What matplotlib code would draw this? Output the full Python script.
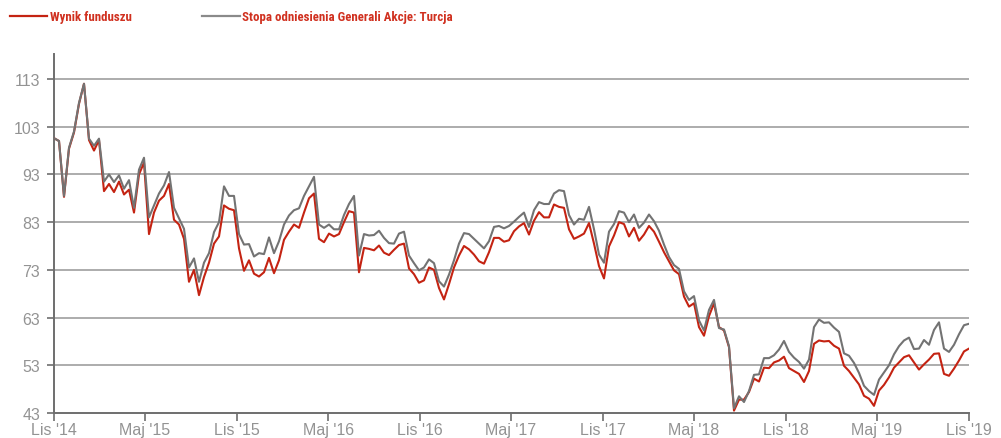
import matplotlib
matplotlib.use("Agg")
import matplotlib.pyplot as plt
from matplotlib.lines import Line2D
from matplotlib import font_manager as fm
import pandas as pd

# ---- data ----
start_date = "2014-11-01"
end_date = "2019-11-01"

benchmark = [
    100.6, 100, 88.5, 98.6, 102, 108, 112, 100.5, 99, 100.5,
    91.5, 93, 91.4, 92.8, 90, 91.8, 86, 94, 96.5, 84,
    86.5, 89, 90.7, 93.5, 86, 83.8, 81.6, 73.5, 75.4, 70.5,
    74.5, 76.5, 80.9, 83, 90.5, 88.5, 88.5, 80.5, 78.3, 78.4,
    75.8, 76.5, 76.3, 79.8, 76.5, 79, 82.5, 84.4, 85.5, 85.9,
    88.5, 90.5, 92.5, 82.5, 81.8, 82.5, 81.5, 81.5, 84.5, 86.8,
    88.5, 76, 80.5, 80.2, 80.3, 81.2, 79.7, 78.6, 78.5, 80.6,
    81, 76, 74.4, 72.9, 73.5, 75.2, 74.4, 70.6, 69.5, 72,
    75, 78.5, 80.7, 80.5, 79.5, 78.5, 77.5, 79, 82, 82.2,
    81.7, 82.2, 83.1, 84.1, 85, 82, 85.5, 87.2, 86.8, 86.8,
    89, 89.7, 89.5, 84.5, 82.5, 83.7, 83.5, 86.2, 81.5, 76.2,
    74.5, 81, 82.6, 85.3, 85, 83, 84.6, 81.8, 82.9, 84.6,
    83.2, 81.2, 78.3, 75.7, 74, 73.2, 68.5, 66.7, 67.5, 62.4,
    60.3, 64.6, 66.7, 60.8, 60.5, 57, 44, 46.5, 45.3, 47.6,
    51, 51.1, 54.5, 54.5, 55.1, 56.3, 58.1, 55.8, 54.6, 53.7,
    52.3, 54.2, 61, 62.6, 61.9, 62, 60.9, 60, 55.5, 55,
    53.5, 51.4, 48.7, 47.6, 46.8, 50, 51.5, 53, 55.3, 57,
    58.2, 58.8, 56.4, 56.5, 58.3, 57.3, 60.4, 62, 56.5, 55.8,
    57.3, 59.5, 61.4, 61.7,
]

fund = [
    100.6, 100, 88.3, 98.4, 101.8, 107.8, 112, 100.2, 98, 100.2,
    89.5, 91, 89.3, 91.5, 88.8, 89.8, 85, 93, 95.5, 80.5,
    85, 87.5, 88.5, 91, 83.5, 82.5, 79.5, 70.5, 73, 67.7,
    71.5, 74.5, 78.5, 80, 86.5, 85.8, 85.5, 77.5, 72.8, 75,
    72.2, 71.6, 72.5, 75.5, 72.3, 75, 79.3, 81, 82.5, 81.8,
    85, 88, 89, 79.5, 78.8, 80.6, 80, 80.5, 83, 85.3,
    85, 72.5, 77.6, 77.4, 77.1, 78.1, 76.6, 76.1, 77.2, 78.2,
    78.5, 73.3, 72.1, 70.3, 70.8, 73.5, 73, 69.2, 66.8, 70,
    73.5, 76, 78, 77.3, 76.2, 74.8, 74.3, 76.7, 79.7, 79.7,
    78.9, 79.2, 81.1, 82.1, 82.8, 80.4, 83.3, 85.1, 84, 84,
    86.7, 86.2, 86, 81.5, 79.5, 80, 80.6, 82.8, 78.5, 73.8,
    71.2, 77.9, 80.2, 83, 82.6, 80, 81.8, 79.1, 80.4, 82.2,
    81, 78.9, 76.7, 74.8, 72.9, 72.1, 67.4, 65.3, 66, 61,
    59.2, 63.3, 66, 61, 60.3, 56.8, 43.5, 45.8, 45.8, 47.4,
    50.2, 49.6, 52.5, 52.4, 53.6, 54, 54.8, 52.4, 51.8, 51.2,
    49.5, 51.8, 57.5, 58.2, 58, 58.1, 57.1, 56.5, 52.9, 51.8,
    50.4, 49, 46.6, 46, 44.5, 47.7, 48.9, 50.5, 52.5, 53.6,
    54.7, 55.1, 53.6, 52.1, 53.2, 54.2, 55.4, 55.5, 51.2, 50.8,
    52.3, 54, 55.9, 56.5,
]

tick_dates = ["2014-11-01", "2015-05-01", "2015-11-01", "2016-05-01", "2016-11-01",
              "2017-05-01", "2017-11-01", "2018-05-01", "2018-11-01", "2019-05-01",
              "2019-11-01"]
tick_labels = ["Lis '14", "Maj '15", "Lis '15", "Maj '16", "Lis '16", "Maj '17",
               "Lis '17", "Maj '18", "Lis '18", "Maj '19", "Lis '19"]
y_ticks = [43, 53, 63, 73, 83, 93, 103, 113]

series_names = ["Wynik funduszu", "Stopa odniesienia Generali Akcje: Turcja"]

# ---- style ----
RED = "#c42312"
GRAY = "#737373"
LABEL_RED = "#d0301f"
TICK_GRAY = "#939393"
AXIS_GRAY = "#6e6e6e"
GRID_GRAY = "#a6a6a6"

plt.rcParams["font.family"] = ["Liberation Sans", "DejaVu Sans"]


def condensed_bold():
    """Pick a condensed/narrow bold face if one is installed."""
    best = None
    for f in fm.fontManager.ttflist:
        name = f.name.lower()
        narrow = ("narrow" in name or "condensed" in name or "condensed" in str(f.stretch)
                  or "condensed" in f.fname.lower())
        bold = (isinstance(f.weight, int) and f.weight >= 600) or str(f.weight) in ("bold", "semibold", "demibold")
        if narrow and bold and "oblique" not in f.fname.lower() and "italic" not in f.fname.lower():
            score = 0 if "liberation" in name else (1 if "roboto" in name else 2)
            if best is None or score < best[0]:
                best = (score, f.fname)
    return best[1] if best else None


cfile = condensed_bold()
if cfile:
    legend_fp = fm.FontProperties(fname=cfile, size=9.3)
else:
    legend_fp = fm.FontProperties(family=["Liberation Sans"], weight="bold", size=8.2)

W, H = 1001, 439
fig = plt.figure(figsize=(W / 100, H / 100), dpi=100)
ax = fig.add_axes([54 / W, 1 - 414 / H, (969 - 54) / W, (414 - 55) / H])

dates = pd.date_range(start_date, end_date, periods=len(benchmark))

for yv in y_ticks[1:]:
    ax.axhline(yv, color=GRID_GRAY, lw=1.3, zorder=1)

ax.plot(dates, fund, color=RED, lw=1.5, zorder=3, solid_joinstyle="round")
ax.plot(dates, benchmark, color=GRAY, lw=1.5, zorder=4, solid_joinstyle="round")

ax.set_xlim(pd.Timestamp(start_date), pd.Timestamp(end_date))
top = 113 + (80 - 55) / ((414 - 80) / 70)
ax.set_ylim(43, top)

ax.set_yticks(y_ticks)
ax.set_yticklabels([str(v) for v in y_ticks])
ax.set_xticks(pd.to_datetime(tick_dates))
ax.set_xticklabels(tick_labels)

for s in ["top", "right"]:
    ax.spines[s].set_visible(False)
for s in ["left", "bottom"]:
    ax.spines[s].set_color(AXIS_GRAY)
    ax.spines[s].set_linewidth(1.4)

ax.tick_params(axis="y", direction="out", length=5, width=1.2, color=AXIS_GRAY,
               labelcolor=TICK_GRAY, labelsize=11.5, pad=5)
ax.tick_params(axis="x", direction="out", length=6, width=1.2, color=AXIS_GRAY,
               labelcolor=TICK_GRAY, labelsize=11.5, pad=0.5)

# ---- legend (manual) ----
ly = 1 - 17 / H
fig.add_artist(Line2D([10 / W, 47 / W], [ly, ly], color=RED, lw=1.6, transform=fig.transFigure))
fig.text(50 / W, ly, series_names[0], color=LABEL_RED, fontproperties=legend_fp,
         va="center", ha="left")
fig.add_artist(Line2D([202 / W, 240 / W], [ly, ly], color="#8a8a8a", lw=1.6, transform=fig.transFigure))
fig.text(242 / W, ly, series_names[1], color=LABEL_RED, fontproperties=legend_fp,
         va="center", ha="left")

fig.savefig("out.png", dpi=100)
